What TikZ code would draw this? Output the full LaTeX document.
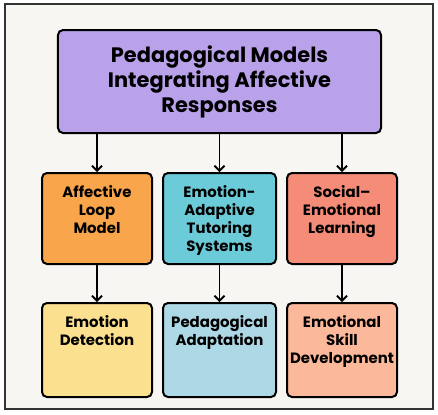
\documentclass[tikz,border=0pt]{standalone}
\usepackage{fontspec}
\setmainfont{Poppins}
\usetikzlibrary{arrows.meta}

\definecolor{framebg}{HTML}{F8F6F2}
\definecolor{topc}{HTML}{B9A2EA}
\definecolor{loopc}{HTML}{F9A54B}
\definecolor{tutorc}{HTML}{6CCBD8}
\definecolor{socialc}{HTML}{F58C78}
\definecolor{detectc}{HTML}{FBE08F}
\definecolor{adaptc}{HTML}{ADD9E6}
\definecolor{skillc}{HTML}{FBB89A}

\newcommand{\boxtext}[2]{\parbox[c][#1][t]{108bp}{\centering\vspace*{9bp}#2}}

\tikzset{
  modelbox/.style={draw=black, line width=2bp, rounded corners=5bp,
    minimum width=110bp, inner sep=0pt, font=\bfseries\fontsize{15}{18}\selectfont},
  flow/.style={line width=1.8bp, -{Straight Barb[length=5bp,width=10bp,line width=1.8bp]}}
}

\begin{document}
\begin{tikzpicture}[x=1bp,y=-1bp]
  \useasboundingbox (0,0) rectangle (438,414);
  \fill[white] (0,0) rectangle (438,414);
  \draw[fill=framebg, draw=black!80, line width=1.8bp] (5,4) rectangle (433,409);

  % title
  \node[draw=black, line width=2bp, rounded corners=5bp, fill=topc,
        minimum width=323bp, minimum height=103bp, align=center,
        font=\bfseries\fontsize{21}{25}\selectfont] (top) at (219.5,81.5)
        {Pedagogical Models\\Integrating Affective\\Responses};

  % models
  \node[modelbox, fill=loopc, minimum height=91bp] (loop) at (97,218.5)
        {\boxtext{83bp}{Affective\\Loop\\Model}};
  \node[modelbox, fill=tutorc, minimum height=91bp, minimum width=113bp] (tutor) at (219.5,218.5)
        {\boxtext{83bp}{Emotion-\\Adaptive\\Tutoring\\Systems}};
  \node[modelbox, fill=socialc, minimum height=91bp] (social) at (342,218.5)
        {\boxtext{83bp}{Social–\\Emotional\\Learning}};

  % outcomes
  \node[modelbox, fill=detectc, minimum height=94bp] (detect) at (97,350)
        {\boxtext{86bp}{Emotion\\Detection}};
  \node[modelbox, fill=adaptc, minimum height=94bp, minimum width=113bp] (adapt) at (219.5,350)
        {\boxtext{86bp}{Pedagogical\\Adaptation}};
  \node[modelbox, fill=skillc, minimum height=94bp] (skill) at (342,350)
        {\boxtext{86bp}{Emotional\\Skill\\Development}};

  \foreach \m/\o in {loop/detect, tutor/adapt, social/skill}{
    \draw[flow] (top.south -| \m.north) -- (\m.north);
    \draw[flow] (\m.south) -- (\o.north);
  }
\end{tikzpicture}
\end{document}
